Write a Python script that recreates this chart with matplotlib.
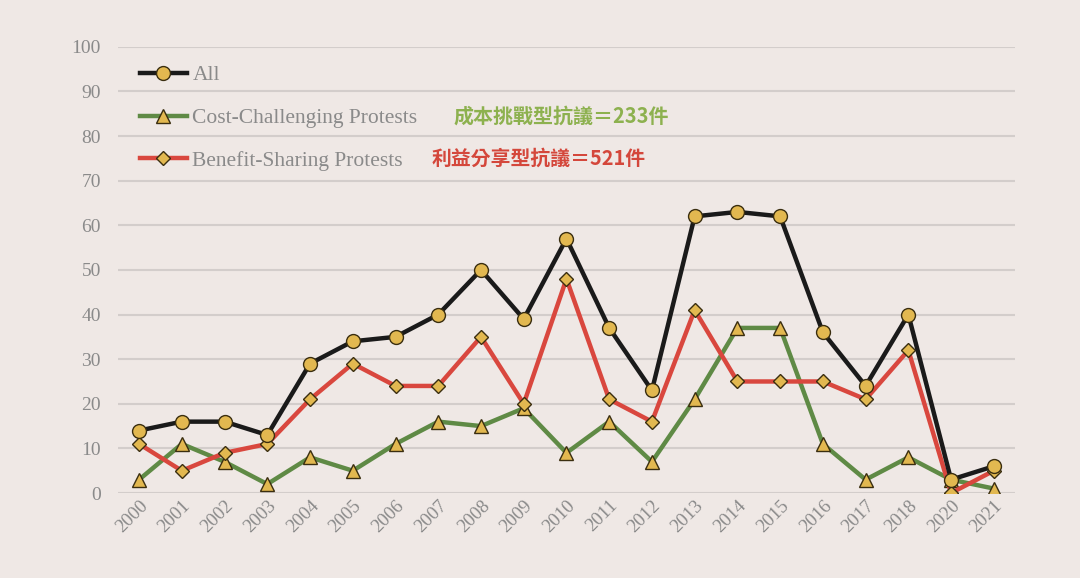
import matplotlib.pyplot as plt
import numpy as np

years = ['2000', '2001', '2002', '2003', '2004', '2005', '2006', '2007', '2008', '2009', '2010',
         '2011', '2012', '2013', '2014', '2015', '2016', '2017', '2018', '2020', '2021']
all_protests = [14, 16, 16, 13, 29, 34, 35, 40, 50, 39, 57, 37, 23, 62, 63, 62, 36, 24, 40, 3, 6]
cost_challenging = [3, 11, 7, 2, 8, 5, 11, 16, 15, 19, 9, 16, 7, 21, 37, 37, 11, 3, 8, 3, 1]
benefit_sharing = [11, 5, 9, 11, 21, 29, 24, 24, 35, 20, 48, 21, 16, 41, 25, 25, 25, 21, 32, 0, 5]

bg = '#efe8e5'
gold = '#e2b850'
x = np.arange(len(years))

fig = plt.figure(figsize=(10.8, 5.78), dpi=100, facecolor=bg)
ax = fig.add_axes([0.109, 0.147, 0.831, 0.772])
ax.set_facecolor(bg)

ax.plot(x, all_protests, color='#1a1a1a', lw=3.2, marker='o', ms=10,
        mfc=gold, mec='#3a2e10', mew=1.0, label='All', zorder=3)
ax.plot(x, cost_challenging, color='#5f8a45', lw=3.2, marker='^', ms=10,
        mfc=gold, mec='#3a2e10', mew=1.0, label='Cost-Challenging Protests', zorder=2)
ax.plot(x, benefit_sharing, color='#d9473e', lw=3.2, marker='D', ms=7.5,
        mfc=gold, mec='#3a2e10', mew=1.0, label='Benefit-Sharing Protests', zorder=2)

ax.set_xlim(-0.5, 20.5)
ax.set_ylim(0, 100)
ax.set_yticks(range(0, 101, 10))
ax.set_xticks(x)
ax.set_xticklabels(years, rotation=45, ha='right', rotation_mode='anchor',
                   family='Liberation Serif', fontsize=13.5, color='#8a8a8a')
for lab in ax.get_yticklabels():
    lab.set_family('Liberation Serif')
ax.tick_params(axis='y', labelsize=14, labelcolor='#8a8a8a', length=0, pad=12)
ax.tick_params(axis='x', length=0, pad=3)
ax.grid(axis='y', color='#d3cdcb', lw=1.5)
ax.set_axisbelow(True)
for s in ax.spines.values():
    s.set_visible(False)

leg = ax.legend(loc='upper left', bbox_to_anchor=(0.0245, 0.959), frameon=False,
                prop={'family': 'Liberation Serif', 'size': 15.5}, labelspacing=1.06,
                handlelength=2.2, handletextpad=0.25, borderaxespad=0, borderpad=0)
for t in leg.get_texts():
    t.set_color('#8a8a8a')

ax.text(7.35, 84.4, '成本挑戰型抗議＝233件', color='#8db14f', fontsize=14.4, fontweight='bold',
        family=['Noto Sans CJK TC', 'DejaVu Sans'], va='center')
ax.text(6.85, 75.0, '利益分享型抗議＝521件', color='#d4473b', fontsize=14.3, fontweight='bold',
        family=['Noto Sans CJK TC', 'DejaVu Sans'], va='center')

fig.savefig('out.png', dpi=100, facecolor=bg)
